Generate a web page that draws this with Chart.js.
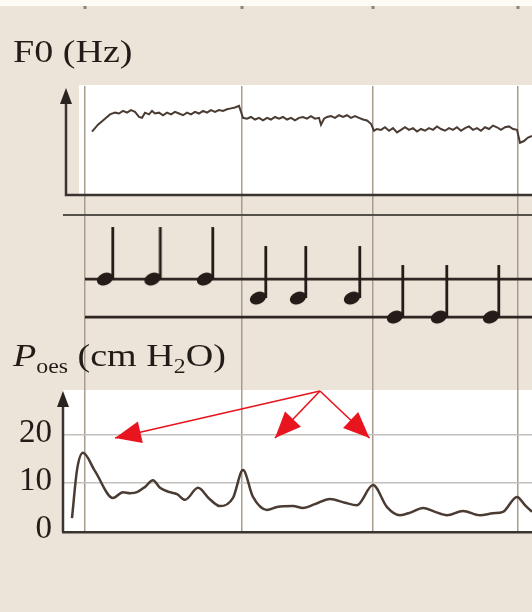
<!DOCTYPE html>
<html>
<head>
<meta charset="utf-8">
<script src="https://cdn.jsdelivr.net/npm/chart.js@4.4.1/dist/chart.umd.min.js"></script>
<style>
  html, body { margin: 0; padding: 0; background: #ece4d8; }
  #wrap { position: relative; width: 532px; height: 612px; overflow: hidden; }
  canvas { position: absolute; left: 0; top: 0; }
  .ttl { position: absolute; left: 13px; font-family: 'Liberation Serif', serif; font-size: 32px; line-height: 32px;
         color: #221c18; white-space: nowrap; transform: scaleX(1.19); transform-origin: 0 0; }
  .sub { font-size: 20px; position: relative; top: 7px; }
</style>
</head>
<body>
<div id="wrap">
  <canvas id="c" width="532" height="612"></canvas>
  <div class="ttl" style="top:35px">F0 (Hz)</div>
  <div class="ttl" style="top:339px"><i>P</i><span class="sub">oes</span> (cm H<span class="sub">2</span>O)</div>
</div>
<script>
// time axis in ms, bar lines between the three note groups
const barTimes = [220, 1790, 3100, 4550];

// fundamental frequency trace
const f0Times = [290, 350, 420, 470, 520, 560, 600, 640, 680, 720, 760, 790, 820, 860, 890, 920, 960, 1000, 1040, 1080,
  1120, 1160, 1200, 1240, 1280, 1320, 1360, 1400, 1440, 1480, 1520, 1560, 1600, 1640, 1680, 1720, 1760, 1800, 1840, 1880,
  1920, 1960, 2000, 2040, 2080, 2120, 2160, 2200, 2240, 2280, 2320, 2360, 2400, 2440, 2480, 2520, 2560, 2580, 2610, 2640,
  2680, 2720, 2760, 2800, 2840, 2880, 2920, 2960, 3000, 3040, 3080, 3110, 3140, 3180, 3220, 3260, 3300, 3340, 3380, 3420,
  3460, 3500, 3540, 3580, 3620, 3660, 3700, 3740, 3780, 3820, 3860, 3900, 3940, 3980, 4020, 4060, 4100, 4140, 4180, 4220,
  4260, 4300, 4340, 4380, 4420, 4460, 4500, 4540, 4570, 4610, 4650, 4690];
const f0Hz = [197, 205, 212, 217, 219, 218, 221, 219, 222, 220, 214, 213, 219, 217, 221, 218, 219, 216, 219, 217,
  220, 218, 216, 219, 217, 220, 218, 221, 219, 222, 220, 222, 221, 223, 224, 225, 227, 213, 212, 214,
  211, 213, 210, 213, 211, 214, 212, 214, 211, 213, 210, 213, 214, 212, 215, 212, 213, 205, 212, 214,
  215, 213, 216, 214, 216, 213, 215, 213, 211, 210, 206, 198, 200, 199, 202, 198, 201, 196, 199, 202,
  199, 201, 197, 200, 198, 201, 199, 203, 200, 198, 201, 199, 202, 198, 201, 203, 199, 201, 198, 202,
  200, 204, 202, 199, 202, 203, 200, 199, 184, 186, 190, 192];

// sung notes: onset time and staff step (2 = upper line, 0 = lower line)
const noteTimes = [420, 895, 1420, 1950, 2350, 2890, 3320, 3760, 4280];
const noteSteps = [2, 2, 2, 1, 1, 1, 0, 0, 0];

// oesophageal pressure trace
const pTimes = [90, 140, 200, 320, 500, 600, 670, 740, 820, 900, 970, 1070, 1140, 1220, 1350, 1460, 1570, 1700, 1800, 1900,
  2040, 2140, 2300, 2400, 2520, 2670, 2820, 2940, 3100, 3240, 3370, 3480, 3600, 3720, 3840, 4000, 4170, 4300, 4400, 4540,
  4620, 4690];
const pValues = [2.7, 12.7, 16.3, 12.5, 6.9, 8.1, 7.9, 8.1, 9.2, 10.6, 9.0, 8.1, 7.7, 6.5, 9.0, 6.8, 5.2, 6.9, 12.7, 7.1,
  4.4, 5.0, 5.2, 4.8, 5.6, 6.7, 5.9, 5.4, 9.6, 5.0, 3.3, 3.9, 4.8, 4.0, 3.3, 4.2, 3.3, 3.7, 4.0, 7.1,
  5.4, 4.0];
const pTicks = [0, 10, 20];

// red arrows: common origin and the three pressure peaks they point at
const arrowFrom = [2570, 29.2];
const arrowTo = [[520, 19.4], [2120, 19.4], [3065, 19.4]];

function noteGlyph() {
  const c = document.createElement('canvas');
  c.width = 26; c.height = 112;
  const g = c.getContext('2d');
  g.fillStyle = '#231c18';
  g.translate(13, 56);
  g.save();
  g.rotate(-0.4);
  g.beginPath();
  g.ellipse(0, 0, 8.5, 6, 0, 0, Math.PI * 2);
  g.fill();
  g.restore();
  g.fillRect(6.4, -52, 2.8, 52);
  return c;
}

function arrowHead(ctx, x0, y0, x1, y1, len, half) {
  const a = Math.atan2(y1 - y0, x1 - x0);
  ctx.beginPath();
  ctx.moveTo(x1, y1);
  ctx.lineTo(x1 - len * Math.cos(a) + half * Math.sin(a), y1 - len * Math.sin(a) - half * Math.cos(a));
  ctx.lineTo(x1 - len * Math.cos(a) - half * Math.sin(a), y1 - len * Math.sin(a) + half * Math.cos(a));
  ctx.closePath();
  ctx.fill();
}

const decor = {
  id: 'decor',
  beforeDraw(chart) {
    const {ctx, chartArea: a, scales, width} = chart;
    ctx.save();
    // pale strip and little bar marks along the top edge
    ctx.fillStyle = '#fdfbf6';
    ctx.fillRect(0, 0, width, 6);
    ctx.fillStyle = '#8c8276';
    barTimes.forEach(t => ctx.fillRect(scales.x.getPixelForValue(t) - 1.5, 6, 3, 3));
    ctx.fillStyle = '#ffffff';
    ctx.fillRect(a.left + 16, scales.yF0.top - 1, a.right - a.left, scales.yF0.bottom - 20 - scales.yF0.top);
    ctx.fillRect(a.left, scales.yP.top, a.right - a.left, scales.yP.bottom - scales.yP.top);
    ctx.restore();
  },
  beforeDatasetsDraw(chart) {
    const {ctx, chartArea: a, scales} = chart;
    ctx.save();
    ctx.strokeStyle = '#56504b';
    ctx.lineWidth = 2;
    ctx.beginPath();
    ctx.moveTo(a.left, scales.yN.top);
    ctx.lineTo(a.right, scales.yN.top);
    ctx.stroke();
    ctx.strokeStyle = '#2e2622';
    ctx.lineWidth = 2.7;
    const sx = scales.x.getPixelForValue(barTimes[0]);
    [0, 2].forEach(v => {
      const y = scales.yN.getPixelForValue(v);
      ctx.beginPath();
      ctx.moveTo(sx, y);
      ctx.lineTo(a.right, y);
      ctx.stroke();
    });
    ctx.restore();
  },
  afterDraw(chart) {
    const {ctx, chartArea: a, scales} = chart;
    ctx.save();
    ctx.strokeStyle = '#3a3430';
    ctx.fillStyle = '#2a2420';
    ctx.lineWidth = 2.5;
    // F0 axes
    const fx = a.left + 3, fb = scales.yF0.bottom - 20, ft = scales.yF0.top + 2;
    ctx.beginPath();
    ctx.moveTo(fx, ft + 12);
    ctx.lineTo(fx, fb);
    ctx.lineTo(a.right, fb);
    ctx.stroke();
    arrowHead(ctx, fx, fb, fx, ft, 16, 6);
    // pressure axis
    const py = scales.yP.top + 1;
    ctx.beginPath();
    ctx.moveTo(a.left, py + 12);
    ctx.lineTo(a.left, a.bottom);
    ctx.stroke();
    arrowHead(ctx, a.left, a.bottom, a.left, py, 16, 6);
    // red arrows
    ctx.strokeStyle = '#e8141e';
    ctx.fillStyle = '#e8141e';
    ctx.lineWidth = 1.6;
    const ox = scales.x.getPixelForValue(arrowFrom[0]);
    const oy = scales.yP.getPixelForValue(arrowFrom[1]);
    arrowTo.forEach(([t, v]) => {
      const tx = scales.x.getPixelForValue(t);
      const ty = scales.yP.getPixelForValue(v);
      ctx.beginPath();
      ctx.moveTo(ox, oy);
      ctx.lineTo(tx, ty);
      ctx.stroke();
      arrowHead(ctx, ox, oy, tx, ty, 26, 11);
    });
    ctx.restore();
  }
};

const fixWidth = s => { s.width = 63; };

new Chart(document.getElementById('c'), {
  type: 'line',
  data: {
    datasets: [
      {
        label: 'F0',
        data: f0Times.map((t, i) => ({x: t, y: f0Hz[i]})),
        yAxisID: 'yF0',
        borderColor: '#4a3b33',
        borderWidth: 2,
        pointRadius: 0,
        tension: 0
      },
      {
        type: 'scatter',
        label: 'notes',
        data: noteTimes.map((t, i) => ({x: t, y: noteSteps[i]})),
        yAxisID: 'yN',
        pointStyle: noteGlyph(),
        pointRadius: 6,
        showLine: false
      },
      {
        label: 'Poes',
        data: pTimes.map((t, i) => ({x: t, y: pValues[i]})),
        yAxisID: 'yP',
        borderColor: '#4a3b33',
        borderWidth: 2.5,
        pointRadius: 0,
        cubicInterpolationMode: 'monotone'
      }
    ]
  },
  options: {
    responsive: false,
    animation: false,
    layout: { autoPadding: false, padding: { top: 86, bottom: 80, left: 0, right: 0 } },
    plugins: { legend: { display: false }, tooltip: { enabled: false } },
    scales: {
      x: {
        type: 'linear', min: 0, max: 4690,
        afterBuildTicks: s => { s.ticks = barTimes.map(v => ({value: v})); },
        ticks: { display: false },
        grid: { color: '#a89c8e', lineWidth: 1.5, drawTicks: false },
        border: { display: true, color: '#3a3430', width: 2.5 }
      },
      yF0: {
        type: 'linear', stack: 'panels', stackWeight: 129, weight: 3, min: 100, max: 250,
        afterFit: fixWidth,
        ticks: { display: false }, grid: { display: false }, border: { display: false }
      },
      yN: {
        type: 'linear', stack: 'panels', stackWeight: 175, weight: 2, min: -3.84, max: 5.37,
        afterFit: fixWidth,
        ticks: { display: false }, grid: { display: false }, border: { display: false }
      },
      yP: {
        type: 'linear', stack: 'panels', stackWeight: 142, weight: 1, min: -0.2, max: 29.4,
        afterFit: fixWidth,
        afterBuildTicks: s => { s.ticks = pTicks.map(v => ({value: v})); },
        ticks: { autoSkip: false, font: { family: 'Liberation Serif', size: 33 }, color: '#221c18', padding: 11, labelOffset: -2 },
        grid: { color: c => c.tick && c.tick.value === 0 ? 'rgba(0,0,0,0)' : '#c4c0bc', lineWidth: 1.5, drawTicks: false },
        border: { display: false }
      }
    }
  },
  plugins: [decor]
});
</script>
</body>
</html>
